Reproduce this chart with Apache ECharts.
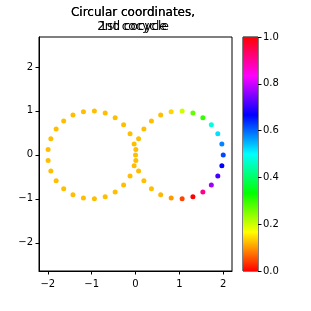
<!DOCTYPE html>
<html>
<head>
<meta charset="utf-8">
<script src="https://cdn.jsdelivr.net/npm/echarts@6/dist/echarts.min.js"></script>
<style>html,body{margin:0;padding:0;background:#fff}#c{width:311px;height:311px}</style>
</head>
<body>
<div id="c"></div>
<script>
// Left circle (x, y) and colour value
const leftX = [0, -0.031, -0.124, -0.271, -0.464, -0.691, -0.937, -1.187, -1.426, -1.637, -1.809, -1.930, -1.992, -1.992, -1.930, -1.809, -1.637, -1.426, -1.187, -0.937, -0.691, -0.464, -0.271, -0.124, -0.031];
const rightX = [2, 1.969, 1.876, 1.729, 1.536, 1.309, 1.063, 0.813, 0.574, 0.363, 0.191, 0.070, 0.008, 0.008, 0.070, 0.191, 0.363, 0.574, 0.813, 1.063, 1.309, 1.536, 1.729, 1.876, 1.969];
const circleY = [0, 0.249, 0.482, 0.685, 0.844, 0.951, 0.998, 0.982, 0.905, 0.771, 0.588, 0.368, 0.125, -0.125, -0.368, -0.588, -0.771, -0.905, -0.982, -0.998, -0.951, -0.844, -0.685, -0.482, -0.249];
const leftC = [0.125, 0.125, 0.125, 0.125, 0.125, 0.125, 0.125, 0.125, 0.125, 0.125, 0.125, 0.125, 0.125, 0.125, 0.125, 0.125, 0.125, 0.125, 0.125, 0.125, 0.125, 0.125, 0.125, 0.125, 0.125];
const rightC = [0.62, 0.58, 0.52, 0.48, 0.30, 0.27, 0.20, 0.14, 0.125, 0.125, 0.125, 0.125, 0.125, 0.125, 0.125, 0.125, 0.125, 0.12, 0.10, 0.044, 0.0, 0.91, 0.77, 0.71, 0.667];
const xTicks = [-2, -1, 0, 1, 2];
const yTicks = [-2, -1, 0, 1, 2];
const titleLine1 = 'Circular coordinates,';
const titleLine2a = '1st cocycle';
const titleLine2b = '2nd cocycle';
const hsvColors = ['#ff0000', '#ffff00', '#00ff00', '#00ffff', '#0000ff', '#ff00ff', '#ff0000'];

const pts = [];
for (let i = 0; i < leftX.length; i++) pts.push([leftX[i], circleY[i], leftC[i]]);
for (let i = 0; i < rightX.length; i++) pts.push([rightX[i], circleY[i], rightC[i]]);

const fmt = v => (v < 0 ? '\u2212' + Math.abs(v) : String(v));
const font = 'DejaVu Sans';
const chart = echarts.init(document.getElementById('c'), null, {renderer: 'canvas'});
const titleStyle = {fontSize: 12, fontWeight: 'normal', color: '#000', fontFamily: font, lineHeight: 14};
const axLine = {show: true, onZero: false, lineStyle: {color: '#000', width: 1}};
chart.setOption({
  animation: false,
  backgroundColor: '#fff',
  title: [
    {text: titleLine1 + '\n' + titleLine2a, left: 133, top: 6, padding: 0, textAlign: 'center', textStyle: titleStyle},
    {text: titleLine1 + '\n' + titleLine2b, left: 133, top: 6, padding: 0, textAlign: 'center', textStyle: titleStyle}
  ],
  grid: [
    {left: 39, top: 37, width: 193, height: 234, show: true, borderColor: '#000', borderWidth: 1, backgroundColor: 'transparent'},
    {left: 243, top: 37, width: 15, height: 234, show: true, borderColor: '#000', borderWidth: 1, backgroundColor: 'transparent'}
  ],
  xAxis: [
    {type: 'value', gridIndex: 0, min: -2.2, max: 2.2,
     axisLine: axLine, splitLine: {show: false},
     axisTick: {show: true, inside: false, length: 3.5, lineStyle: {color: '#000'}, customValues: xTicks},
     axisLabel: {customValues: xTicks, formatter: fmt, fontSize: 10, color: '#000', fontFamily: font, margin: 8}},
    {type: 'category', gridIndex: 1, data: ['c'], show: false}
  ],
  yAxis: [
    {type: 'value', gridIndex: 0, min: -2.64, max: 2.68,
     axisLine: axLine, splitLine: {show: false},
     axisTick: {show: true, inside: false, length: 3.5, lineStyle: {color: '#000'}, customValues: yTicks},
     axisLabel: {customValues: yTicks, formatter: fmt, fontSize: 10, color: '#000', fontFamily: font, margin: 6}},
    {type: 'value', gridIndex: 1, min: 0, max: 1, interval: 0.2, position: 'right',
     axisLine: {show: false, onZero: false}, splitLine: {show: false},
     axisTick: {show: true, length: 3.5, lineStyle: {color: '#000'}},
     axisLabel: {formatter: v => v.toFixed(1), fontSize: 10, color: '#000', fontFamily: font, margin: 5}}
  ],
  visualMap: {
    show: false, type: 'continuous', seriesIndex: 0, dimension: 2, min: 0, max: 1,
    inRange: {color: hsvColors}
  },
  series: [
    {type: 'scatter', xAxisIndex: 0, yAxisIndex: 0, data: pts, symbolSize: 5, itemStyle: {opacity: 1}},
    {type: 'bar', xAxisIndex: 1, yAxisIndex: 1, data: [1], barWidth: '100%', silent: true,
     itemStyle: {color: {type: 'linear', x: 0, y: 1, x2: 0, y2: 0,
       colorStops: hsvColors.map((c, i) => ({offset: i / (hsvColors.length - 1), color: c}))}}}
  ]
});
</script>
</body>
</html>
